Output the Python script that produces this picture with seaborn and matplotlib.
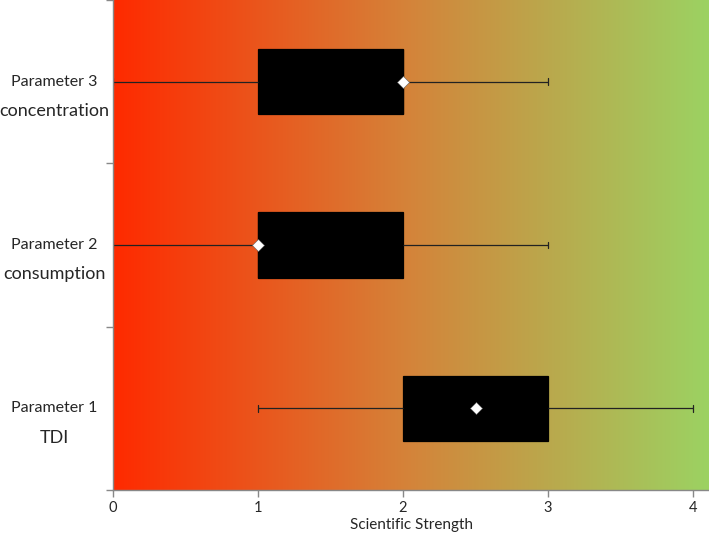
import matplotlib
matplotlib.use("Agg")
import matplotlib.pyplot as plt
from matplotlib.colors import LinearSegmentedColormap
import matplotlib.transforms as mtransforms
import numpy as np
import pandas as pd
import seaborn as sns

params = ['Parameter 3', 'Parameter 2', 'Parameter 1']
subtitles = ['concentration', 'consumption', 'TDI']
scores_p3 = [0, 1, 2, 2, 3]
scores_p2 = [0, 1, 1, 2, 3]
scores_p1 = [1, 2, 2, 3, 3, 4]
xticks = [0, 1, 2, 3, 4]

df = pd.DataFrame({
    'param': ['Parameter 3'] * len(scores_p3) + ['Parameter 2'] * len(scores_p2) + ['Parameter 1'] * len(scores_p1),
    'score': scores_p3 + scores_p2 + scores_p1,
})

sns.set_style('white')
plt.rcParams['font.family'] = ['Lato', 'DejaVu Sans']

fig = plt.figure(figsize=(7.09, 5.36), dpi=100)
ax = fig.add_axes([113 / 709, 1 - 490 / 536, 1 - 113 / 709, 490 / 536])

# red -> green background
cmap = LinearSegmentedColormap.from_list('rg', ['#ff2a00', '#d4843a', '#9cd262'])
xmax = (709 - 113) / 145
grad = np.linspace(0, 1, 256).reshape(1, -1)
ax.imshow(grad, cmap=cmap, aspect='auto', extent=[0, xmax, 2.5, -0.5], zorder=0)

sns.boxplot(data=df, x='score', y='param', order=params, orient='h', width=0.4,
            color='black', linecolor='black', linewidth=0.9, whis=(0, 100),
            showfliers=False, capwidths=0.04,
            whiskerprops=dict(color='#222222', linewidth=0.9),
            capprops=dict(color='#222222', linewidth=0.9),
            medianprops=dict(color='black'), ax=ax)

sns.pointplot(data=df, x='score', y='param', order=params, orient='h',
              estimator='median', errorbar=None, markers='D', linestyle='none',
              color='white', markersize=6, markeredgewidth=0.4, ax=ax)
for ln in ax.lines[-3:]:
    ln.set_markeredgecolor('#666666')
ax.lines[-1].set_zorder(5)
for c in ax.collections:
    c.set_zorder(5)

ax.set_xlim(0, xmax)
ax.set_ylim(2.5, -0.5)
ax.set_xticks(xticks)
ax.set_xticklabels([str(t) for t in xticks], fontsize=10.5)
ax.set_yticks([-0.5, 0.5, 1.5, 2.5])
ax.set_yticklabels([])
ax.set_ylabel('')
ax.set_xlabel('Scientific Strength', fontsize=11, labelpad=2)
ax.tick_params(axis='both', direction='out', length=5, color='#888888', width=1,
               left=True, bottom=True, pad=3)

for s in ['top', 'right']:
    ax.spines[s].set_visible(False)
for s in ['left', 'bottom']:
    ax.spines[s].set_color('#888888')
    ax.spines[s].set_linewidth(1)

trans = mtransforms.blended_transform_factory(fig.transFigure, ax.transData)
for i, (p, sub) in enumerate(zip(params, subtitles)):
    ax.text(54 / 709, i, p, transform=trans, ha='center', va='center', fontsize=11.5)
    ax.text(54 / 709, i + 0.18, sub, transform=trans, ha='center', va='center', fontsize=13)

fig.savefig('out.png', dpi=100)
